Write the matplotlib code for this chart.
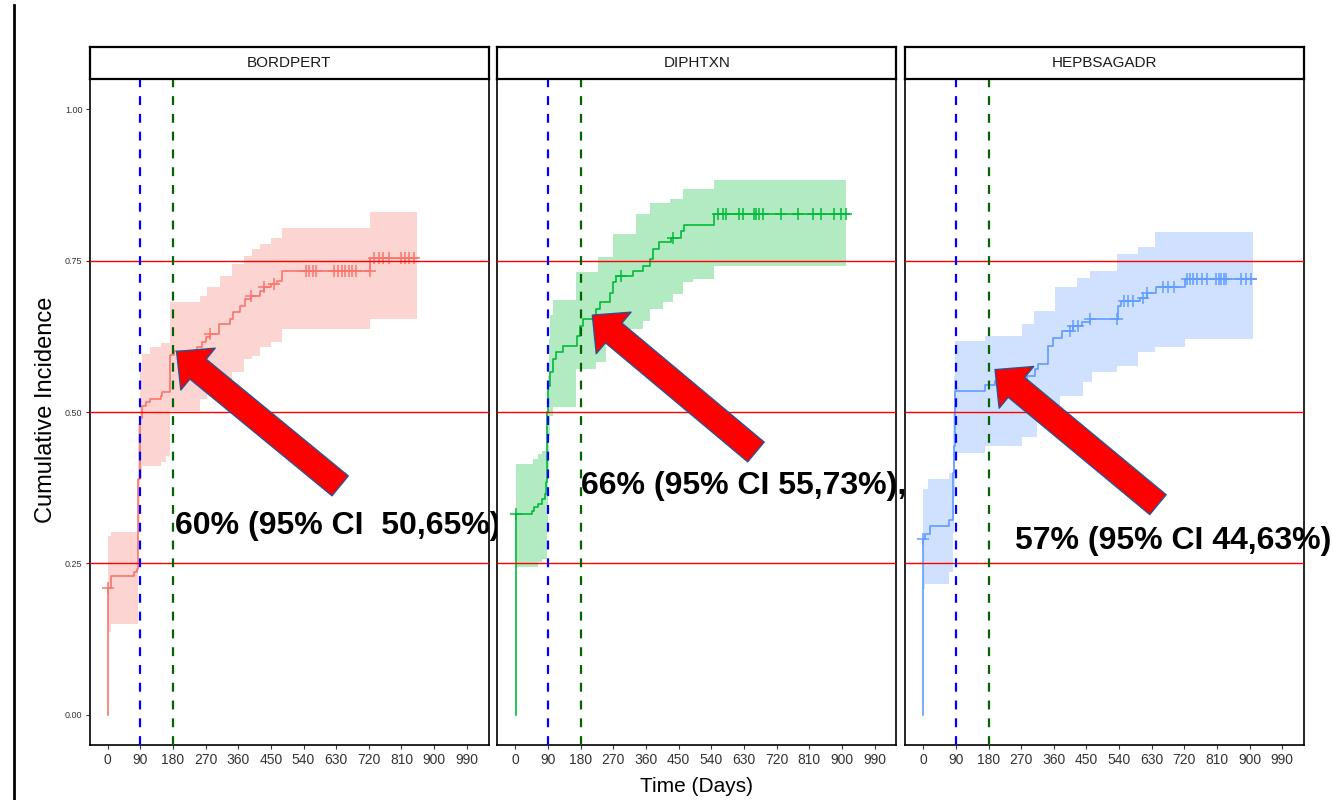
import numpy as np
import matplotlib
matplotlib.use("Agg")
import matplotlib.pyplot as plt
from matplotlib.lines import Line2D

# facet names and ggplot default hue colours
panels = ["BORDPERT", "DIPHTXN", "HEPBSAGADR"]
colors = ["#F8766D", "#00BA38", "#619CFF"]

# BORDPERT: step times (days) and cumulative incidence
bp_t = [0, 0, 8, 72, 80, 84, 89, 95, 105, 118, 146, 151, 173, 183, 247, 261, 270, 283, 308,
        338, 346, 366, 380, 394, 421, 430, 449, 467, 481, 724, 852]
bp_y = [0, 0.210, 0.229, 0.235, 0.240, 0.390, 0.490, 0.510, 0.516, 0.521, 0.527, 0.533, 0.594,
        0.601, 0.607, 0.615, 0.624, 0.629, 0.645, 0.653, 0.665, 0.675, 0.686, 0.692, 0.700,
        0.706, 0.711, 0.717, 0.733, 0.755, 0.755]
bp_cens = [0, 283, 394, 430, 458, 548, 556, 566, 575, 624, 634, 645, 655, 665, 675, 685,
           722, 735, 748, 760, 775, 808, 820, 832, 845]
bp_ci_t = [0, 8, 84, 89, 95, 118, 146, 160, 173, 256, 274, 290, 311, 343, 375, 398, 421,
           449, 481, 724, 852]
bp_lo = [0.137, 0.150, 0.300, 0.390, 0.410, 0.411, 0.417, 0.428, 0.502, 0.521, 0.530, 0.543,
         0.550, 0.566, 0.587, 0.593, 0.607, 0.615, 0.637, 0.653, 0.653]
bp_hi = [0.296, 0.302, 0.480, 0.566, 0.596, 0.607, 0.614, 0.614, 0.681, 0.692, 0.706, 0.706,
         0.725, 0.744, 0.758, 0.769, 0.777, 0.787, 0.804, 0.831, 0.831]

# DIPHTXN
dx_t = [1, 1, 47, 52, 62, 72, 81, 85, 86, 89, 94, 104, 113, 131, 171, 177, 186, 223, 232,
        260, 269, 278, 324, 351, 370, 379, 397, 429, 457, 466, 548, 920]
dx_y = [0, 0.332, 0.337, 0.343, 0.348, 0.356, 0.365, 0.384, 0.500, 0.543, 0.566, 0.587,
        0.599, 0.609, 0.626, 0.642, 0.653, 0.670, 0.681, 0.697, 0.714, 0.725, 0.733, 0.741,
        0.752, 0.769, 0.780, 0.788, 0.799, 0.809, 0.827, 0.827]
dx_cens = [1, 292, 434, 558, 572, 581, 617, 628, 659, 663, 672, 682, 732, 778, 819, 842,
           879, 897, 911]
dx_ci_t = [1, 49, 62, 72, 86, 89, 92, 96, 104, 168, 223, 228, 250, 269, 315, 333, 351, 370,
           406, 425, 434, 462, 489, 548, 912]
dx_lo = [0.244, 0.244, 0.252, 0.257, 0.300, 0.400, 0.460, 0.494, 0.508, 0.571, 0.582, 0.582,
         0.615, 0.615, 0.637, 0.637, 0.651, 0.670, 0.681, 0.681, 0.695, 0.714, 0.719, 0.741,
         0.741]
dx_hi = [0.414, 0.422, 0.430, 0.436, 0.500, 0.560, 0.620, 0.660, 0.685, 0.731, 0.731, 0.756,
         0.756, 0.794, 0.794, 0.827, 0.827, 0.846, 0.846, 0.851, 0.851, 0.868, 0.868, 0.884,
         0.884]

# HEPBSAGADR
hb_t = [0, 0, 6, 19, 72, 81, 84, 88, 171, 198, 285, 308, 317, 345, 359, 382, 414, 437, 460,
        538, 546, 597, 616, 643, 721, 918]
hb_y = [0, 0.290, 0.299, 0.312, 0.321, 0.400, 0.444, 0.535, 0.545, 0.552, 0.560, 0.571,
        0.579, 0.609, 0.623, 0.634, 0.642, 0.648, 0.653, 0.675, 0.684, 0.689, 0.697, 0.706,
        0.719, 0.719]
hb_cens = [0, 405, 414, 427, 460, 533, 553, 565, 578, 607, 616, 662, 676, 690, 726, 735,
           745, 755, 768, 781, 806, 815, 822, 830, 836, 875, 890, 904]
hb_ci_t = [0, 6, 12, 72, 81, 84, 88, 171, 272, 304, 313, 363, 377, 423, 441, 460, 464, 533,
           593, 638, 721, 909]
hb_lo = [0.208, 0.216, 0.216, 0.236, 0.300, 0.360, 0.433, 0.444, 0.458, 0.458, 0.486, 0.486,
         0.527, 0.527, 0.549, 0.549, 0.566, 0.576, 0.599, 0.607, 0.620, 0.620]
hb_hi = [0.373, 0.373, 0.389, 0.400, 0.500, 0.560, 0.617, 0.626, 0.645, 0.667, 0.667, 0.706,
         0.706, 0.722, 0.722, 0.733, 0.733, 0.761, 0.772, 0.797, 0.797, 0.797]

# 180-day estimates called out on each facet
est_day = [190, 212, 198]
est_val = [0.60, 0.66, 0.57]
est_text = ["60% (95% CI  50,65%)", "66% (95% CI 55,73%),", "57% (95% CI 44,63%)"]
arrow_tail = [(641, 0.378), (663, 0.434), (647, 0.347)]
text_pos = [(187, 0.299), (182, 0.365), (253, 0.274)]

curves = [(bp_t, bp_y, bp_cens, bp_ci_t, bp_lo, bp_hi),
          (dx_t, dx_y, dx_cens, dx_ci_t, dx_lo, dx_hi),
          (hb_t, hb_y, hb_cens, hb_ci_t, hb_lo, hb_hi)]

x_breaks = np.arange(0, 1000, 90)
y_breaks = [0, 0.25, 0.5, 0.75, 1.0]


def step_at(t, y, x):
    idx = np.searchsorted(t, x, side="right") - 1
    return np.asarray(y)[idx]


W, H = 1332, 800
fig = plt.figure(figsize=(W / 100, H / 100), dpi=100)
font = "Liberation Sans"

for i, name in enumerate(panels):
    t, y, cens, ci_t, lo, hi = curves[i]
    col = colors[i]
    left = 89.5 + i * 407.8
    ax = fig.add_axes([left / W, 1 - 745 / H, 399 / W, 666 / H])

    ax.fill_between(ci_t, lo, hi, step="post", color=col, alpha=0.3, lw=0, zorder=1)
    ax.plot(t, y, drawstyle="steps-post", color=col, lw=1.2, zorder=2)
    ax.plot(cens, step_at(t, y, cens), ls="none", marker="+", ms=8, mew=1.1,
            color=col, zorder=2)

    for h in (0.25, 0.5, 0.75):
        ax.axhline(h, color="red", lw=1.0, zorder=3)
    ax.axvline(90, color="blue", lw=1.6, ls=(0, (4, 4)), zorder=3)
    ax.axvline(180, color="darkgreen", lw=1.6, ls=(0, (4, 4)), zorder=3)

    ax.annotate("", xy=(est_day[i], est_val[i]), xytext=arrow_tail[i],
                arrowprops=dict(arrowstyle="simple,head_length=20,head_width=39,tail_width=18.5",
                                mutation_scale=1, fc="red", ec="#2F528F", lw=1,
                                shrinkA=0, shrinkB=0), zorder=6)
    ax.text(text_pos[i][0], text_pos[i][1], est_text[i], fontsize=23, fontweight="bold",
            family=font, ha="left", va="baseline", clip_on=False, zorder=7)

    ax.set_xlim(-50, 1050)
    ax.set_ylim(-0.05, 1.05)
    ax.set_xticks(x_breaks)
    ax.set_xticklabels([str(v) for v in x_breaks], family=font, fontsize=10,
                       color="#333333")
    ax.tick_params(axis="x", length=3, width=0.8, color="#333333", pad=3)
    if i == 0:
        ax.set_yticks(y_breaks)
        ax.set_yticklabels([f"{v:.2f}" for v in y_breaks], family=font, fontsize=6.5,
                           color="#333333")
        ax.tick_params(axis="y", length=3, width=0.8, color="#333333", pad=2)
    else:
        ax.set_yticks([])
    for s in ax.spines.values():
        s.set_color("black")
        s.set_linewidth(1.2)

    # facet strip
    sx = fig.add_axes([left / W, 1 - 79 / H, 399 / W, 32 / H])
    sx.set_xticks([])
    sx.set_yticks([])
    for s in sx.spines.values():
        s.set_color("black")
        s.set_linewidth(1.6)
    sx.text(0.5, 0.5, name, transform=sx.transAxes, ha="center", va="center",
            family=font, fontsize=11, color="#1A1A1A")

fig.text(697 / W, 1 - 787 / H, "Time (Days)", ha="center", va="center",
         family=font, fontsize=15, color="black")
fig.text(46 / W, 1 - 410 / H, "Cumulative Incidence", rotation=90, ha="center",
         va="center", family=font, fontsize=17, color="black")

fig.add_artist(Line2D([14 / W, 14 / W], [0, 1 - 5 / H], transform=fig.transFigure,
                      color="black", lw=2))

fig.savefig("out.png", dpi=100)
